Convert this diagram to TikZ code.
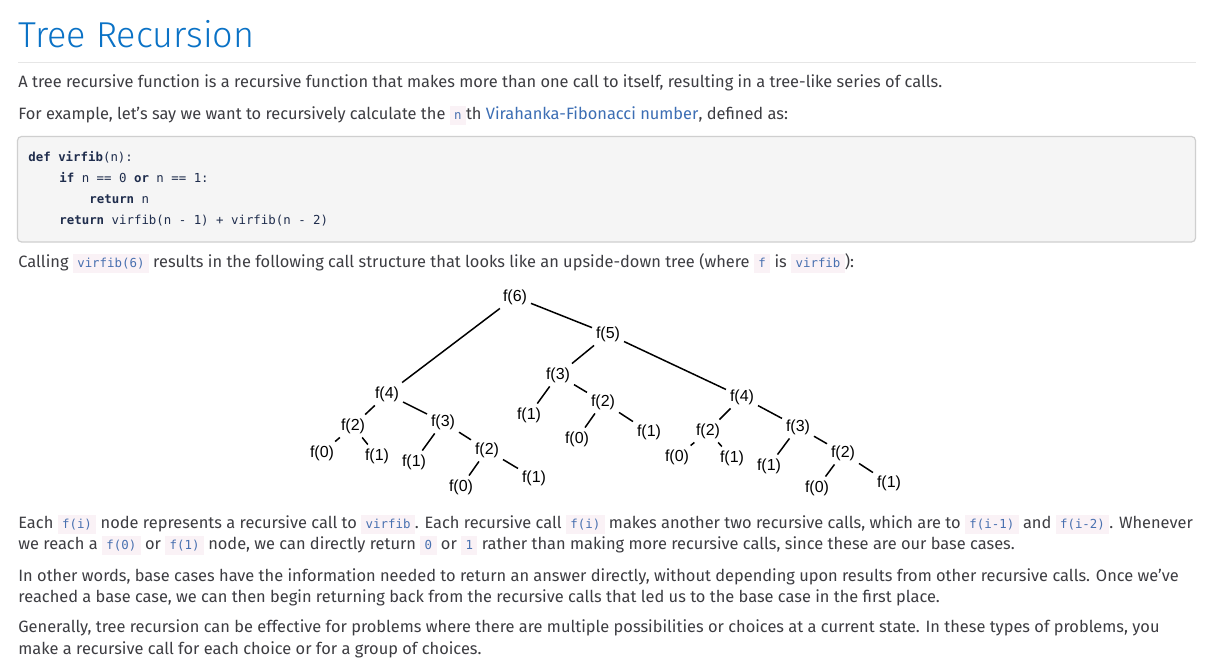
\documentclass[tikz,border=0pt]{standalone}
\usepackage{fontspec}
\setmainfont{Fira Sans}
\setmonofont{DejaVu Sans Mono}
\newfontfamily\titlefont{Fira Sans Light}
\newfontfamily\treefont{Liberation Sans}
\definecolor{titleblue}{HTML}{0A72C6}
\definecolor{linkblue}{HTML}{3C6EB4}
\definecolor{textgray}{HTML}{3D3D42}
\definecolor{codefg}{HTML}{4870B0}
\definecolor{codebg}{HTML}{FAF2F6}
\definecolor{blockbg}{HTML}{F5F5F5}
\definecolor{blockline}{HTML}{CFCFCF}
\definecolor{blockfg}{HTML}{1F2D4D}
\definecolor{rulegray}{HTML}{E6E6E6}
\newcommand{\bodysize}{\fontsize{8.2pt}{9.5pt}\selectfont}
\newcommand{\codesize}{\fontsize{6.2pt}{7.5pt}\selectfont}
\newcommand{\icode}[1]{{\setlength{\fboxsep}{0pt}\colorbox{codebg}{\rule[-2.5pt]{0pt}{9.5pt}\hspace{2.2pt}\ttfamily\codesize\color{codefg}#1\hspace{2.2pt}}}}
\newcommand{\kw}[1]{\textbf{#1}}
\tikzset{
  para/.style={anchor=base west, inner sep=0pt, text=textgray, font=\bodysize},
  codeline/.style={anchor=base west, inner sep=0pt, text=blockfg, font=\ttfamily\codesize},
  call/.style={font=\treefont\fontsize{8pt}{9pt}\selectfont, inner sep=1.8pt},
  link/.style={line width=0.75pt},
}
\begin{document}
\begin{tikzpicture}[x=0.5pt,y=-0.5pt]
\fill[white] (0,0) rectangle (1207,668);
\useasboundingbox (0,0) rectangle (1207,668);

\node[anchor=base west, inner sep=0pt, text=titleblue, font=\titlefont\fontsize{18pt}{20pt}\selectfont] (title) at (18,48) {Tree Recursion};
\draw[rulegray, line width=0.5pt] (18,63) -- (1196,63);

\node[para] (p1) at (18,88) {A tree recursive function is a recursive function that makes more than one call to itself, resulting in a tree-like series of calls.};
\node[para] (p2) at (18,120) {For example, let's say we want to recursively calculate the \icode{n}th \textcolor{linkblue}{Virahanka-Fibonacci number}, defined as:};

\draw[blockline, fill=blockbg, rounded corners=2pt, line width=0.6pt] (17.5,136.5) rectangle (1195.5,242);
\node[codeline] (c1) at (28,162) {\kw{def} \kw{virfib}(n):};
\node[codeline] (c2) at (59,183) {\kw{if} n == 0 \kw{or} n == 1:};
\node[codeline] (c3) at (89,204) {\kw{return} n};
\node[codeline] (c4) at (59,225) {\kw{return} virfib(n - 1) + virfib(n - 2)};

\node[para] (p3) at (18,268) {Calling \icode{virfib(6)} results in the following call structure that looks like an upside-down tree (where \icode{f} is \icode{virfib}):};

\node[call] (n6) at (515,297) {f(6)};
\node[call] (n5) at (608,334) {f(5)};
\node[call] (n4a) at (387,394) {f(4)};
\node[call] (n2a) at (353,426) {f(2)};
\node[call] (n3a) at (443,422) {f(3)};
\node[call] (n0a) at (322,453) {f(0)};
\node[call] (n1a) at (377,456) {f(1)};
\node[call] (n1b) at (414,462) {f(1)};
\node[call] (n2b) at (487,450) {f(2)};
\node[call] (n0b) at (461,487) {f(0)};
\node[call] (n1c) at (534,478) {f(1)};
\node[call] (n3b) at (558,375) {f(3)};
\node[call] (n1d) at (529,415) {f(1)};
\node[call] (n2c) at (603,402) {f(2)};
\node[call] (n0c) at (577,439) {f(0)};
\node[call] (n1e) at (649,432) {f(1)};
\node[call] (n4b) at (742,397) {f(4)};
\node[call] (n2d) at (708,431) {f(2)};
\node[call] (n3c) at (798,427) {f(3)};
\node[call] (n0d) at (677,457) {f(0)};
\node[call] (n1f) at (732,458) {f(1)};
\node[call] (n1g) at (769,466) {f(1)};
\node[call] (n2e) at (843,453) {f(2)};
\node[call] (n0e) at (817,488) {f(0)};
\node[call] (n1h) at (889,483) {f(1)};

\draw[link] (n4a) -- (n6) -- (n5) -- (n4b);
\draw[link] (n5) -- (n3b);
\draw[link] (n2a) -- (n4a) -- (n3a) -- (n2b) -- (n1c);
\draw[link] (n0a) -- (n2a) -- (n1a);
\draw[link] (n1b) -- (n3a);
\draw[link] (n0b) -- (n2b);
\draw[link] (n1d) -- (n3b) -- (n2c) -- (n1e);
\draw[link] (n0c) -- (n2c);
\draw[link] (n2d) -- (n4b) -- (n3c) -- (n2e) -- (n1h);
\draw[link] (n0d) -- (n2d) -- (n1f);
\draw[link] (n1g) -- (n3c);
\draw[link] (n0e) -- (n2e);

\node[para] (p4) at (18,529) {Each \icode{f(i)} node represents a recursive call to \icode{virfib}. Each recursive call \icode{f(i)} makes another two recursive calls, which are to \icode{f(i-1)} and \icode{f(i-2)}. Whenever};
\node[para] (p5) at (18,550) {we reach a \icode{f(0)} or \icode{f(1)} node, we can directly return \icode{0} or \icode{1} rather than making more recursive calls, since these are our base cases.};
\node[para] (p6) at (18,582) {In other words, base cases have the information needed to return an answer directly, without depending upon results from other recursive calls. Once we've};
\node[para] (p7) at (18,603) {reached a base case, we can then begin returning back from the recursive calls that led us to the base case in the first place.};
\node[para] (p8) at (18,633) {Generally, tree recursion can be effective for problems where there are multiple possibilities or choices at a current state. In these types of problems, you};
\node[para] (p9) at (18,654) {make a recursive call for each choice or for a group of choices.};
\end{tikzpicture}
\end{document}
